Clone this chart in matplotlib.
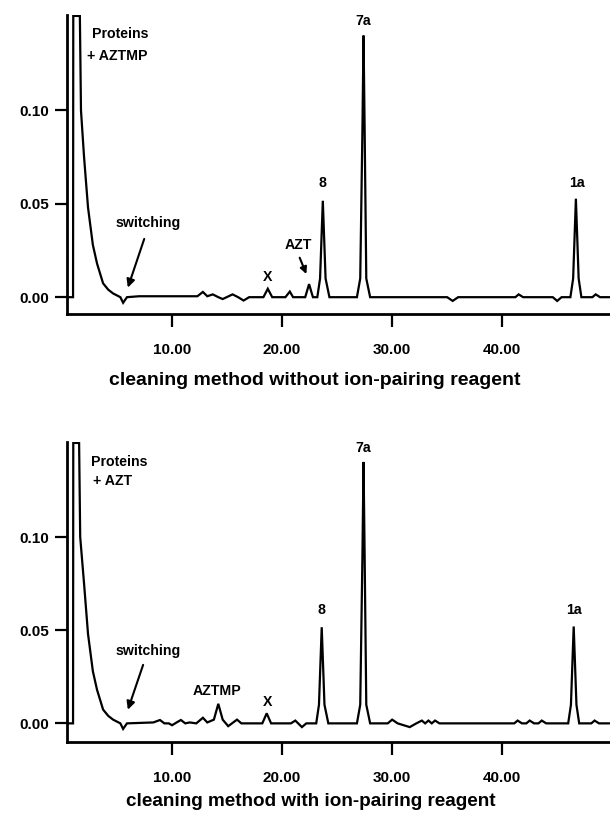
import matplotlib
matplotlib.use("Agg")
import matplotlib.pyplot as plt

plt.rcParams['font.family'] = ['Liberation Sans', 'DejaVu Sans']
plt.rcParams['font.weight'] = 'bold'
plt.rcParams['axes.labelweight'] = 'bold'

# ---- data: retention time (min) and absorbance ----
t_top = [0.45, 1.0, 1.02, 1.62, 1.72, 2.0, 2.36, 2.8, 3.18, 3.73, 4.2, 4.64, 5.3, 5.55, 5.9,
         7.0, 9.0, 12.3, 12.8, 13.2, 13.7, 14.2, 14.6, 15.5, 16.0, 16.5, 17.0,
         18.3, 18.7, 19.1, 20.3, 20.7, 21.0, 22.1, 22.45, 22.8,
         23.2, 23.45, 23.7, 23.95, 24.3,
         26.8, 27.1, 27.3, 27.4, 27.5, 27.65, 28.0,
         35.0, 35.5, 36.0, 41.2, 41.5, 41.9, 44.6, 45.0, 45.4,
         46.2, 46.45, 46.7, 46.95, 47.2, 48.2, 48.5, 48.9, 50.0]
a_top = [0.0, 0.0, 0.1505, 0.1505, 0.10, 0.075, 0.048, 0.028, 0.018, 0.0074, 0.004, 0.002, 0.0, -0.003, 0.0,
         0.0005, 0.0005, 0.0005, 0.0028, 0.0005, 0.0015, 0.0, -0.001, 0.0015, 0.0, -0.0018, 0.0,
         0.0, 0.0045, 0.0, 0.0, 0.003, 0.0, 0.0, 0.007, 0.0,
         0.0, 0.01, 0.0516, 0.01, 0.0,
         0.0, 0.01, 0.09, 0.140, 0.09, 0.01, 0.0,
         0.0, -0.002, 0.0, 0.0, 0.0015, 0.0, 0.0, -0.002, 0.0,
         0.0, 0.01, 0.0527, 0.01, 0.0, 0.0, 0.0015, 0.0, 0.0]

t_bot = [0.45, 1.0, 1.02, 1.55, 1.65, 2.0, 2.36, 2.8, 3.18, 3.73, 4.2, 4.64, 5.3, 5.55, 5.9,
         8.3, 8.9, 9.3, 9.7, 10.0, 10.5, 10.8, 11.2, 11.6, 12.2, 12.8, 13.2, 13.8,
         14.2, 14.6, 15.1, 15.9, 16.3, 18.2, 18.6, 19.0, 20.8, 21.2, 21.8, 22.2,
         23.1, 23.35, 23.6, 23.85, 24.2,
         26.8, 27.1, 27.3, 27.4, 27.5, 27.65, 28.0,
         29.6, 30.0, 30.5, 31.6, 32.2, 32.7, 33.0, 33.3, 33.6, 33.9, 34.3,
         41.1, 41.4, 41.8, 42.2, 42.5, 42.9, 43.3, 43.6, 44.0,
         46.0, 46.25, 46.5, 46.75, 47.0, 48.1, 48.4, 48.8, 50.0]
a_bot = [0.0, 0.0, 0.1505, 0.1505, 0.10, 0.075, 0.048, 0.028, 0.018, 0.0074, 0.004, 0.002, 0.0, -0.003, 0.0,
         0.0005, 0.0018, 0.0, 0.0, -0.001, 0.0008, 0.0018, 0.0, 0.0005, 0.0, 0.003, 0.0005, 0.002,
         0.0105, 0.002, -0.0015, 0.002, 0.0, 0.0, 0.0054, 0.0, 0.0, 0.0015, -0.002, 0.0,
         0.0, 0.01, 0.0516, 0.01, 0.0,
         0.0, 0.01, 0.09, 0.1403, 0.09, 0.01, 0.0,
         0.0, 0.002, 0.0, -0.002, 0.0, 0.0015, 0.0, 0.0015, 0.0, 0.0015, 0.0,
         0.0, 0.0015, 0.0, 0.0, 0.0015, 0.0, 0.0, 0.0015, 0.0,
         0.0, 0.01, 0.052, 0.01, 0.0, 0.0, 0.0015, 0.0, 0.0]

x_ticks = [10, 20, 30, 40]
x_tick_labels = ["10.00", "20.00", "30.00", "40.00"]
y_ticks = [0.0, 0.05, 0.10]
y_tick_labels = ["0.00", "0.05", "0.10"]

xlabel_top = "cleaning method without ion-pairing reagent"
xlabel_bot = "cleaning method with ion-pairing reagent"

W, H = 610, 814
fig = plt.figure(figsize=(W / 100, H / 100), dpi=100)

def make_ax(bottom_px, top_px, ymin):
    ax = fig.add_axes([67 / W, 1 - bottom_px / H, 1 - 67 / W, (bottom_px - top_px) / H])
    ax.set_xlim(0.45, 49.8)
    ax.set_ylim(ymin, 0.151)
    for s in ['top', 'right']:
        ax.spines[s].set_visible(False)
    for s in ['left', 'bottom']:
        ax.spines[s].set_linewidth(2.0)
    ax.set_xticks(x_ticks)
    ax.set_xticklabels(x_tick_labels)
    ax.set_yticks(y_ticks)
    ax.set_yticklabels(y_tick_labels)
    ax.tick_params(axis='y', direction='out', length=9, width=1.6, pad=4, labelsize=11)
    ax.tick_params(axis='x', direction='out', length=9, width=1.6, pad=12, labelsize=11)
    return ax

ax1 = make_ax(314, 15, -0.009)
ax1.plot(t_top, a_top, color='black', lw=1.6, solid_joinstyle='miter', clip_on=True)
ax1.set_xlabel(xlabel_top, fontsize=14, labelpad=11, x=0.457)

fs = 10.2
ax1.text(2.7, 0.141, "Proteins", fontsize=fs, ha='left', va='center')
ax1.text(2.3, 0.129, "+ AZTMP", fontsize=fs, ha='left', va='center')
ax1.text(7.8, 0.0396, "switching", fontsize=fs, ha='center', va='center')
ax1.annotate("", xy=(5.9, 0.0037), xytext=(7.55, 0.0326),
             arrowprops=dict(arrowstyle='-|>', color='black', lw=1.5, mutation_scale=12))
ax1.text(18.7, 0.011, "X", fontsize=fs, ha='center', va='center')
ax1.text(21.5, 0.028, "AZT", fontsize=fs, ha='center', va='center')
ax1.annotate("", xy=(22.3, 0.011), xytext=(21.5, 0.0225),
             arrowprops=dict(arrowstyle='-|>', color='black', lw=1.5, mutation_scale=10))
ax1.text(23.7, 0.061, "8", fontsize=fs, ha='center', va='center')
ax1.text(27.4, 0.148, "7a", fontsize=fs, ha='center', va='center')
ax1.text(46.8, 0.061, "1a", fontsize=fs, ha='center', va='center')

ax2 = make_ax(742, 442, -0.010)
ax2.plot(t_bot, a_bot, color='black', lw=1.6, solid_joinstyle='miter', clip_on=True)
ax2.set_xlabel(xlabel_bot, fontsize=13.6, labelpad=5.5, x=0.449)

ax2.text(2.6, 0.140, "Proteins", fontsize=fs, ha='left', va='center')
ax2.text(2.8, 0.130, "+ AZT", fontsize=fs, ha='left', va='center')
ax2.text(7.8, 0.039, "switching", fontsize=fs, ha='center', va='center')
ax2.annotate("", xy=(5.9, 0.0059), xytext=(7.45, 0.0328),
             arrowprops=dict(arrowstyle='-|>', color='black', lw=1.5, mutation_scale=12))
ax2.text(14.1, 0.0172, "AZTMP", fontsize=fs, ha='center', va='center')
ax2.text(18.7, 0.0113, "X", fontsize=fs, ha='center', va='center')
ax2.text(23.6, 0.061, "8", fontsize=fs, ha='center', va='center')
ax2.text(27.4, 0.148, "7a", fontsize=fs, ha='center', va='center')
ax2.text(46.5, 0.061, "1a", fontsize=fs, ha='center', va='center')

fig.savefig("out.png", dpi=100)
